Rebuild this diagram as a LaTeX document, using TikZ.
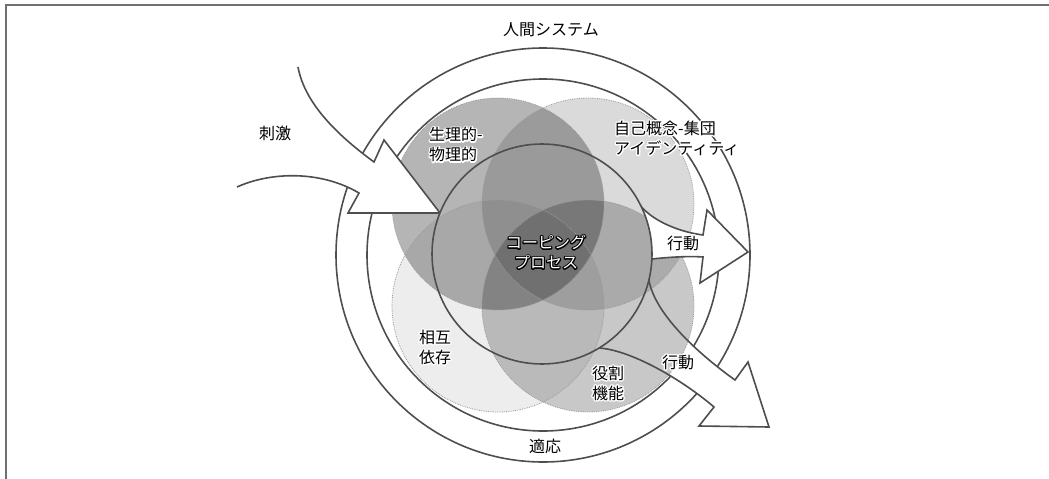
\documentclass[tikz,border=0pt]{standalone}
\usepackage{fontspec}
\setmainfont{Noto Sans CJK JP}
\usetikzlibrary{calc}
\definecolor{lineC}{HTML}{4E4E4E}
\definecolor{frameC}{HTML}{707070}
\definecolor{dotC}{HTML}{9A9A9A}
\tikzset{
  ring/.style={draw=lineC, line width=1.6pt},
  petal/.style={draw=dotC, densely dotted, line width=0.8pt},
  arrowshape/.style={draw=lineC, line width=1.6pt, line join=miter},
  lbl/.style={font=\fontsize{16}{20}\selectfont, inner sep=0pt, align=center},
}
\newcommand\strokeon[1]{\special{pdf:literal direct 1 Tr #1 w 1 j}}
\newcommand\strokeoff{\special{pdf:literal direct 0 Tr}}
\newcommand\halolabel[7]{% name, position, options, halo colour, text colour, halo width, text
  \node[lbl,#3,text=#4] at (#2) {\strokeon{#6}#7\strokeoff};%
  \node[lbl,#3,text=#5] (#1) at (#2) {#7};}
\newcommand\petalfills{%
  \fill[black, fill opacity=0.29]  (498,204) circle[radius=106pt];
  \fill[black, fill opacity=0.145] (588,204) circle[radius=106pt];
  \fill[black, fill opacity=0.07]  (498,306) circle[radius=106pt];
  \fill[black, fill opacity=0.215] (588,306) circle[radius=106pt];
  \draw[petal] (498,204) circle[radius=106pt];
  \draw[petal] (588,204) circle[radius=106pt];
  \draw[petal] (498,306) circle[radius=106pt];
  \draw[petal] (588,306) circle[radius=106pt];}
\begin{document}
\begin{tikzpicture}[x=1pt,y=-1pt]
\useasboundingbox (0,0) rectangle (1049,479);
\draw[frameC, line width=1.3pt] (6,479) -- (6,5) -- (1049,5);

\coordinate (rc) at (543,255);
\coordinate (cc) at (542,254);
\node[circle, ring, minimum size=414pt, inner sep=0pt] (outerring) at (rc) {};
\node[circle, ring, minimum size=352pt, inner sep=0pt] (innerring) at (rc) {};

% lower action arrow coordinates
\coordinate (R1) at (648.9,280);
\coordinate (R2) at (735,380);
\coordinate (R3) at (748,362);
\coordinate (R4) at (769,427);
\coordinate (R5) at (699,426);
\coordinate (R6) at (714,407);
\coordinate (R7) at (599.1,348);
\fill[white] (R1) .. controls (655,315) and (700,355) .. (R2) -- (R3) -- (R4) -- (R5) -- (R6) .. controls (680,378) and (630,350) .. (R7) -- cycle;

\petalfills

\draw[arrowshape] (R1) .. controls (655,315) and (700,355) .. (R2) -- (R3) -- (R4) -- (R5) -- (R6) .. controls (680,378) and (630,350) .. (R7);

% upper action arrow
\coordinate (Q1) at (641.5,207);
\coordinate (Q2) at (703,235);
\coordinate (Q3) at (707,210);
\coordinate (Q4) at (748,252);
\coordinate (Q5) at (700,283);
\coordinate (Q6) at (703,257);
\coordinate (Q7) at (651.9,259);
\fill[white] (Q1) .. controls (655,222) and (680,232) .. (Q2) -- (Q3) -- (Q4) -- (Q5) -- (Q6) .. controls (690,256) and (670,257) .. (Q7) -- cycle;
\draw[arrowshape] (Q1) .. controls (655,222) and (680,232) .. (Q2) -- (Q3) -- (Q4) -- (Q5) -- (Q6) .. controls (690,256) and (670,257) .. (Q7);

% stimulus arrow
\coordinate (P1) at (298,67);
\coordinate (P2) at (374,162);
\coordinate (P3) at (384,140);
\coordinate (P4) at (440,213);
\coordinate (P5) at (348,213);
\coordinate (P6) at (359,193);
\coordinate (P7) at (237,187);
\fill[white] (P1) .. controls (305,105) and (340,137) .. (P2) -- (P3) -- (P4) -- (P5) -- (P6) .. controls (320,170) and (270,172) .. (P7) -- cycle;
\draw[arrowshape] (P1) .. controls (305,105) and (340,137) .. (P2) -- (P3) -- (P4) -- (P5) -- (P6) .. controls (320,170) and (270,172) .. (P7);

% restore the inside of the coping circle
\begin{scope}
\clip (cc) circle[radius=110pt];
\fill[white] (cc) circle[radius=112pt];
\petalfills
\end{scope}
\node[circle, ring, minimum size=220pt, inner sep=0pt] (cope) at (cc) {};

% labels
\node[lbl] (human) at (551,30) {人間システム};
\node[lbl] (stim) at (275,133) {刺激};
\halolabel{phys}{429,144.5}{anchor=west,align=left}{white}{black}{2.8}{生理的-\\物理的}
\halolabel{self}{614,138}{anchor=west,align=left}{white}{black}{2.8}{自己概念-集団\\アイデンティティ}
\halolabel{copelbl}{546,252}{}{black}{white}{2.4}{コーピング\\プロセス}
\halolabel{act1}{683,243}{}{white}{black}{2.8}{行動}
\halolabel{act2}{678,362}{}{white}{black}{2.8}{行動}
\halolabel{inter}{435,347}{}{white}{black}{2.8}{相互\\依存}
\halolabel{role}{608,383}{}{white}{black}{2.8}{役割\\機能}
\node[lbl] (adapt) at (545,446) {適応};
\end{tikzpicture}
\end{document}
